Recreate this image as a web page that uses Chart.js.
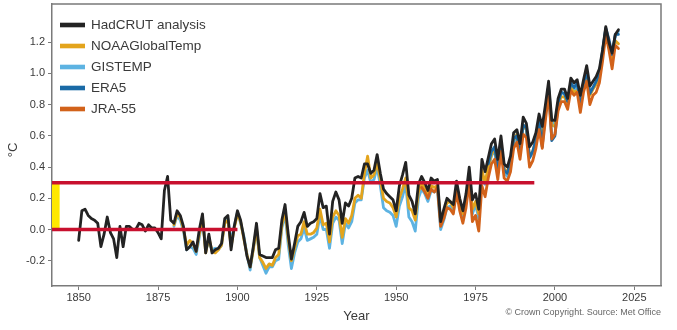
<!DOCTYPE html>
<html>
<head>
<meta charset="utf-8">
<title>Global mean temperature anomalies</title>
<script src="https://cdn.jsdelivr.net/npm/chart.js@4/dist/chart.umd.min.js"></script>
<style>
  html, body { margin: 0; padding: 0; background: #ffffff; }
  #wrap { width: 677px; height: 330px; position: relative; }
</style>
</head>
<body>
<div id="wrap"><canvas id="chart" width="677" height="330"></canvas></div>
<script>
// Annual global mean temperature anomalies (°C, relative to 1850–1900)
const hadcrutStart = 1850;
const hadcrut = [
  -0.07, 0.12, 0.13, 0.09, 0.07, 0.06, 0.04, -0.11, -0.03, 0.08,
  -0.02, -0.06, -0.18, 0.02, -0.11, 0.02, 0.02, 0.00, 0.00, 0.04,
  0.03, -0.01, 0.03, 0.01, 0.01, -0.02, -0.06, 0.25, 0.34, 0.06,
  0.04, 0.12, 0.09, 0.02, -0.13, -0.11, -0.08, -0.14, 0.00, 0.10,
  -0.15, -0.03, -0.15, -0.13, -0.12, -0.09, 0.07, 0.09, -0.13, 0.02,
  0.12, 0.06, -0.05, -0.17, -0.24, -0.11, 0.04, -0.16, -0.17, -0.18,
  -0.18, -0.18, -0.13, -0.12, 0.06, 0.16, -0.03, -0.19, -0.09, 0.02,
  0.05, 0.11, 0.02, 0.04, 0.05, 0.07, 0.23, 0.14, 0.15, -0.03,
  0.18, 0.24, 0.19, 0.04, 0.17, 0.15, 0.20, 0.33, 0.34, 0.33,
  0.42, 0.42, 0.36, 0.38, 0.48, 0.36, 0.26, 0.23, 0.21, 0.19,
  0.12, 0.28, 0.35, 0.43, 0.22, 0.18, 0.10, 0.29, 0.34, 0.30,
  0.25, 0.33, 0.31, 0.32, 0.05, 0.13, 0.20, 0.18, 0.16, 0.31,
  0.20, 0.12, 0.23, 0.40, 0.19, 0.23, 0.13, 0.45, 0.37, 0.46,
  0.55, 0.58, 0.45, 0.60, 0.42, 0.40, 0.47, 0.62, 0.64, 0.55,
  0.72, 0.68, 0.53, 0.56, 0.62, 0.74, 0.66, 0.80, 0.95, 0.70,
  0.70, 0.84, 0.90, 0.90, 0.84, 0.97, 0.94, 0.96, 0.86, 0.96,
  1.05, 0.92, 0.95, 0.98, 1.03, 1.15, 1.30, 1.20, 1.13, 1.25,
  1.28
];

const noaaStart = 1880;
const noaa = [
  0.03, 0.10, 0.08, 0.00, -0.10, -0.07, -0.09, -0.14, -0.03, 0.08,
  -0.15, -0.05, -0.14, -0.15, -0.13, -0.10, 0.04, 0.06, -0.11, 0.01,
  0.10, 0.05, -0.06, -0.16, -0.24, -0.13, 0.01, -0.18, -0.21, -0.25,
  -0.22, -0.23, -0.18, -0.16, 0.03, 0.12, -0.06, -0.20, -0.12, -0.04,
  -0.03, 0.05, -0.03, -0.03, -0.02, 0.01, 0.13, 0.03, 0.04, -0.08,
  0.08, 0.12, 0.09, -0.05, 0.07, 0.04, 0.09, 0.20, 0.22, 0.20,
  0.36, 0.47, 0.33, 0.35, 0.43, 0.32, 0.20, 0.18, 0.17, 0.14,
  0.08, 0.20, 0.26, 0.33, 0.14, 0.12, 0.06, 0.24, 0.30, 0.26,
  0.22, 0.28, 0.27, 0.28, 0.05, 0.11, 0.17, 0.18, 0.14, 0.27,
  0.19, 0.10, 0.19, 0.34, 0.13, 0.18, 0.10, 0.38, 0.30, 0.40,
  0.48, 0.52, 0.39, 0.55, 0.39, 0.37, 0.43, 0.57, 0.61, 0.51,
  0.67, 0.64, 0.47, 0.50, 0.57, 0.69, 0.58, 0.76, 0.90, 0.67,
  0.66, 0.80, 0.85, 0.85, 0.80, 0.91, 0.88, 0.89, 0.81, 0.91,
  0.99, 0.86, 0.90, 0.93, 0.98, 1.12, 1.25, 1.17, 1.09, 1.21,
  1.19
];

const gistempStart = 1880;
const gistemp = [
  0.02, 0.09, 0.06, -0.01, -0.13, -0.11, -0.12, -0.16, -0.05, 0.07,
  -0.13, -0.08, -0.13, -0.12, -0.13, -0.10, 0.05, 0.07, -0.08, 0.02,
  0.11, 0.04, -0.04, -0.16, -0.26, -0.12, 0.00, -0.18, -0.23, -0.28,
  -0.24, -0.24, -0.20, -0.19, 0.01, 0.10, -0.10, -0.25, -0.15, -0.08,
  -0.06, 0.01, -0.07, -0.06, -0.05, -0.03, 0.09, 0.00, 0.00, -0.12,
  0.04, 0.08, 0.06, -0.09, 0.04, 0.01, 0.05, 0.17, 0.19, 0.19,
  0.33, 0.38, 0.30, 0.32, 0.40, 0.28, 0.14, 0.12, 0.11, 0.09,
  0.02, 0.15, 0.21, 0.29, 0.08, 0.05, -0.01, 0.20, 0.26, 0.23,
  0.18, 0.25, 0.24, 0.25, 0.00, 0.06, 0.14, 0.15, 0.11, 0.25,
  0.18, 0.08, 0.17, 0.32, 0.10, 0.16, 0.07, 0.36, 0.29, 0.39,
  0.47, 0.51, 0.37, 0.54, 0.37, 0.34, 0.41, 0.55, 0.61, 0.50,
  0.67, 0.64, 0.46, 0.49, 0.56, 0.70, 0.58, 0.74, 0.92, 0.68,
  0.68, 0.81, 0.88, 0.87, 0.80, 0.93, 0.89, 0.92, 0.80, 0.93,
  1.00, 0.87, 0.91, 0.94, 1.00, 1.15, 1.28, 1.19, 1.11, 1.24,
  1.27
];

const era5Start = 1979;
const era5 = [
  0.42, 0.50, 0.53, 0.39, 0.56, 0.38, 0.36, 0.43, 0.58, 0.60,
  0.50, 0.67, 0.65, 0.46, 0.50, 0.58, 0.70, 0.53, 0.76, 0.92,
  0.57, 0.60, 0.81, 0.88, 0.87, 0.82, 0.94, 0.91, 0.94, 0.81,
  0.93, 1.02, 0.87, 0.91, 0.95, 1.00, 1.14, 1.29, 1.22, 1.12,
  1.25, 1.25
];

const jra55Start = 1958;
const jra55 = [
  0.27, 0.24, 0.20, 0.26, 0.24, 0.27, 0.02, 0.07, 0.14, 0.13,
  0.10, 0.24, 0.12, 0.04, 0.14, 0.30, 0.05, 0.09, -0.01, 0.28,
  0.21, 0.33, 0.42, 0.45, 0.32, 0.50, 0.33, 0.31, 0.37, 0.52,
  0.56, 0.45, 0.61, 0.59, 0.40, 0.44, 0.52, 0.64, 0.52, 0.70,
  0.87, 0.58, 0.61, 0.76, 0.82, 0.82, 0.77, 0.89, 0.86, 0.88,
  0.75, 0.88, 0.95, 0.80, 0.86, 0.88, 0.94, 1.08, 1.25, 1.15,
  1.03, 1.18, 1.16
];

// Reference levels: pre-industrial baseline and +0.3 °C
const baselineLevel = 0.0;
const baselineEnd = 1900;
const warmLevel = 0.3;
const warmEnd = 1993.5;

const xTicks = [1850, 1875, 1900, 1925, 1950, 1975, 2000, 2025];
const yTicks = [-0.2, 0.0, 0.2, 0.4, 0.6, 0.8, 1.0, 1.2];

const xMin = 1841.6, xMax = 2033.4;
const yMin = -0.362, yMax = 1.445;

function toPoints(start, values) {
  return values.map((v, i) => ({ x: start + i, y: v }));
}

const FONT = '"Liberation Sans", Arial, Helvetica, sans-serif';
const AXIS_GREY = '#7a7a7a';
const TEXT = '#3a3a3a';

const seriesStyle = (color, order) => ({
  borderColor: color,
  backgroundColor: color,
  borderWidth: 2.8,
  pointRadius: 0,
  tension: 0,
  borderJoinStyle: 'round',
  borderCapStyle: 'round',
  order: order
});

const datasets = [
  Object.assign({ label: 'HadCRUT analysis', data: toPoints(hadcrutStart, hadcrut) }, seriesStyle('#232323', 1)),
  Object.assign({ label: 'NOAAGlobalTemp', data: toPoints(noaaStart, noaa) }, seriesStyle('#E3A41C', 4)),
  Object.assign({ label: 'GISTEMP', data: toPoints(gistempStart, gistemp) }, seriesStyle('#5DB3E2', 5)),
  Object.assign({ label: 'ERA5', data: toPoints(era5Start, era5) }, seriesStyle('#1A6AA6', 3)),
  Object.assign({ label: 'JRA-55', data: toPoints(jra55Start, jra55) }, seriesStyle('#D2621A', 2)),
  {
    label: 'warm', legendHidden: true,
    data: [{ x: xMin, y: warmLevel }, { x: warmEnd, y: warmLevel }],
    borderColor: '#C8102E', borderWidth: 3.5, pointRadius: 0, order: 0
  },
  {
    label: 'baseline', legendHidden: true,
    data: [{ x: xMin, y: baselineLevel }, { x: baselineEnd, y: baselineLevel }],
    borderColor: '#C8102E', borderWidth: 3.5, pointRadius: 0, order: 0
  }
];

// Frame, baseline band, legend, titles and credit line
const decorations = {
  id: 'decorations',
  beforeDatasetsDraw(chart) {
    const { ctx, chartArea: a, scales: { x, y } } = chart;
    ctx.save();
    // yellow band marking the baseline-to-warm interval at the left edge
    ctx.fillStyle = '#FFE800';
    const bx0 = x.getPixelForValue(xMin);
    const bx1 = x.getPixelForValue(1844.0);
    const by0 = y.getPixelForValue(warmLevel);
    const by1 = y.getPixelForValue(baselineLevel);
    ctx.fillRect(bx0, by0, bx1 - bx0, by1 - by0);
    // top and right edges of the frame
    ctx.strokeStyle = AXIS_GREY;
    ctx.lineWidth = 1.5;
    ctx.beginPath();
    ctx.moveTo(a.left, a.top);
    ctx.lineTo(a.right, a.top);
    ctx.lineTo(a.right, a.bottom);
    ctx.stroke();
    ctx.restore();
  },
  afterDraw(chart) {
    const { ctx, chartArea: a } = chart;
    ctx.save();
    // legend
    const items = chart.data.datasets.filter(d => !d.legendHidden);
    ctx.font = '13.5px ' + FONT;
    ctx.textBaseline = 'middle';
    ctx.textAlign = 'left';
    items.forEach((d, i) => {
      const cy = a.top + 21 + i * 21;
      ctx.fillStyle = d.borderColor;
      ctx.fillRect(a.left + 8, cy - 2.3, 25, 4.6);
      ctx.fillStyle = TEXT;
      ctx.fillText(d.label, a.left + 39, cy + 0.5);
    });
    // axis titles
    ctx.fillStyle = TEXT;
    ctx.font = '13px ' + FONT;
    ctx.textAlign = 'center';
    ctx.fillText('Year', (a.left + a.right) / 2, 316);
    ctx.save();
    ctx.translate(13, 150);
    ctx.rotate(-Math.PI / 2);
    ctx.fillText('°C', 0, 0);
    ctx.restore();
    // credit line
    ctx.font = '9px ' + FONT;
    ctx.fillStyle = '#666';
    ctx.textAlign = 'right';
    ctx.fillText('© Crown Copyright. Source: Met Office', a.right, 313);
    ctx.restore();
  }
};

new Chart(document.getElementById('chart'), {
  type: 'line',
  data: { datasets },
  options: {
    responsive: false,
    animation: false,
    layout: { padding: { left: 0, right: 16, top: 4, bottom: 0 } },
    plugins: { legend: { display: false }, tooltip: { enabled: false } },
    scales: {
      x: {
        type: 'linear',
        min: xMin,
        max: xMax,
        afterBuildTicks: s => { s.ticks = xTicks.map(v => ({ value: v })); },
        afterFit: s => { s.height = 44; s.paddingLeft = 0; s.paddingRight = 0; },
        grid: { drawOnChartArea: false, drawTicks: true, tickLength: 4, color: AXIS_GREY, lineWidth: 1 },
        border: { color: AXIS_GREY, width: 1.5 },
        ticks: { color: TEXT, font: { family: FONT, size: 11 }, padding: 1, maxRotation: 0, autoSkip: false,
                 callback: v => String(v) }
      },
      y: {
        type: 'linear',
        min: yMin,
        max: yMax,
        afterBuildTicks: s => { s.ticks = yTicks.map(v => ({ value: v })); },
        afterFit: s => { s.width = 52; s.paddingTop = 0; s.paddingBottom = 0; },
        grid: { drawOnChartArea: false, drawTicks: true, tickLength: 4, color: AXIS_GREY, lineWidth: 1 },
        border: { color: AXIS_GREY, width: 1.5 },
        ticks: { color: TEXT, font: { family: FONT, size: 11 }, padding: 3,
                 callback: v => v.toFixed(1) }
      }
    }
  },
  plugins: [decorations]
});
</script>
</body>
</html>
